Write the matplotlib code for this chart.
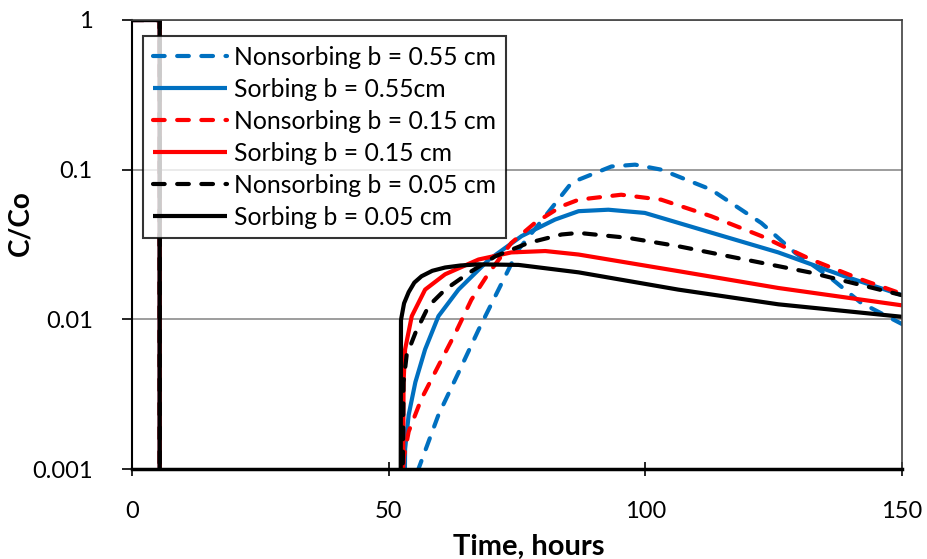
import numpy as np
import matplotlib
matplotlib.use("Agg")
import matplotlib.pyplot as plt

plt.rcParams['font.family'] = ['Lato', 'DejaVu Sans']

# pulse injection (same for every case): C/Co = 1 until it is shut off
t_pulse = [0, 5.4, 5.4]
c_pulse = [1, 1, 1e-4]

# breakthrough curves
t_ns55 = [54.9, 55.8, 59.7, 63.6, 67.5, 71.4, 75.3, 80.5, 85.6, 87, 93.4, 98, 103.1, 112.8, 122.6, 129.2, 135.7, 142, 150]
c_ns55 = [0.0006, 0.001, 0.0023, 0.0044, 0.0085, 0.0158, 0.0293, 0.0489, 0.0815, 0.0857, 0.105, 0.108, 0.1, 0.0736, 0.044, 0.0278, 0.0194, 0.0129, 0.0093]

t_s55 = [52.9, 53.2, 53.9, 55.2, 57.1, 59.7, 63.6, 69.5, 75.9, 82.4, 87, 92.8, 99.9, 112.8, 125.9, 138.8, 150]
c_s55 = [1e-4, 0.00136, 0.0023, 0.0038, 0.0063, 0.0105, 0.0158, 0.025, 0.036, 0.0464, 0.0528, 0.054, 0.0514, 0.038, 0.028, 0.0194, 0.0145]

t_ns15 = [52.8, 52.9, 53.9, 56.4, 59.7, 63.0, 66.1, 69.5, 73.9, 78.5, 83.7, 87, 95.3, 103.1, 112.8, 122.6, 132.3, 142, 150]
c_ns15 = [1e-4, 0.00117, 0.00178, 0.00295, 0.0049, 0.0081, 0.0135, 0.0204, 0.0324, 0.0441, 0.057, 0.063, 0.068, 0.063, 0.0489, 0.036, 0.0251, 0.0185, 0.0148]

t_s15 = [52.7, 52.9, 53.2, 54.5, 57.1, 61.0, 67.5, 73.9, 80.5, 87, 106.4, 125.9, 150]
c_s15 = [1e-4, 0.0038, 0.0063, 0.0105, 0.0158, 0.020, 0.0251, 0.028, 0.0286, 0.0271, 0.021, 0.0162, 0.0124]

t_ns05 = [52.5, 52.9, 53.5, 55.2, 57.8, 61.0, 65.6, 70.8, 77.2, 83.7, 87, 96.7, 106.4, 119.4, 132.3, 150]
c_ns05 = [1e-4, 0.0038, 0.00575, 0.0081, 0.0123, 0.0158, 0.0204, 0.0264, 0.0324, 0.0369, 0.0378, 0.035, 0.0308, 0.0251, 0.0205, 0.0145]

t_s05 = [52.3, 52.4, 53.0, 53.9, 55.0, 56.4, 58.5, 61.0, 64.0, 67.5, 75.3, 87, 106.4, 125.9, 150]
c_s05 = [1e-4, 0.0099, 0.0128, 0.0152, 0.0176, 0.0194, 0.0211, 0.0222, 0.0229, 0.0233, 0.0231, 0.0206, 0.0158, 0.0126, 0.0104]

labels = ['Nonsorbing b = 0.55 cm', 'Sorbing b = 0.55cm',
          'Nonsorbing b = 0.15 cm', 'Sorbing b = 0.15 cm',
          'Nonsorbing b = 0.05 cm', 'Sorbing b = 0.05 cm']

series = [(t_ns55, c_ns55, '#0070C0', True), (t_s55, c_s55, '#0070C0', False),
          (t_ns15, c_ns15, '#FF0000', True), (t_s15, c_s15, '#FF0000', False),
          (t_ns05, c_ns05, 'black', True), (t_s05, c_s05, 'black', False)]

fig = plt.figure(figsize=(9.27, 5.59), dpi=100)
ax = fig.add_axes([132/927, 1 - 469/559, (902 - 132)/927, (469 - 20)/559])

for (t, c, col, dashed), lab in zip(series, labels):
    x = t_pulse + t
    y = c_pulse + c
    if dashed:
        ax.plot(x, y, color=col, lw=3, ls=(0, (2.8, 3.0)), dash_capstyle='round', label=lab)
    else:
        ax.plot(x, y, color=col, lw=3, solid_capstyle='butt', label=lab)

ax.set_yscale('log')
ax.set_xlim(0, 150)
ax.set_ylim(0.001, 1)
ax.set_xticks([0, 50, 100, 150])
ax.set_yticks([0.001, 0.01, 0.1, 1])
ax.set_yticklabels(['0.001', '0.01', '0.1', '1'])
ax.minorticks_off()
ax.yaxis.grid(True, color='#8C8C8C', lw=1.2)
ax.set_axisbelow(True)

ax.tick_params(axis='both', labelsize=17, color='black', width=1.2)
ax.tick_params(axis='x', direction='inout', length=9.4, pad=18)
ax.tick_params(axis='y', direction='out', length=7.2, pad=21)
ax.spines['left'].set_linewidth(1.5)
ax.spines['bottom'].set_linewidth(2.5)
for s in ['top', 'right']:
    ax.spines[s].set_linewidth(1.2)
    ax.spines[s].set_color('#404040')

ax.set_xlabel('Time, hours', fontsize=21, fontweight='bold')
ax.set_ylabel('C/Co', fontsize=20, fontweight='bold')
ax.xaxis.set_label_coords(0.515, -0.144)
ax.yaxis.set_label_coords(-0.128, 0.547)

leg = ax.legend(loc='upper left', bbox_to_anchor=(0.014, 0.964), borderaxespad=0,
                fontsize=17.8, frameon=True, fancybox=False, edgecolor='black',
                handlelength=3.0, handletextpad=0.3, labelspacing=0.36, borderpad=0.4)
leg.get_frame().set_linewidth(1.5)

fig.savefig('out.png', dpi=100)
